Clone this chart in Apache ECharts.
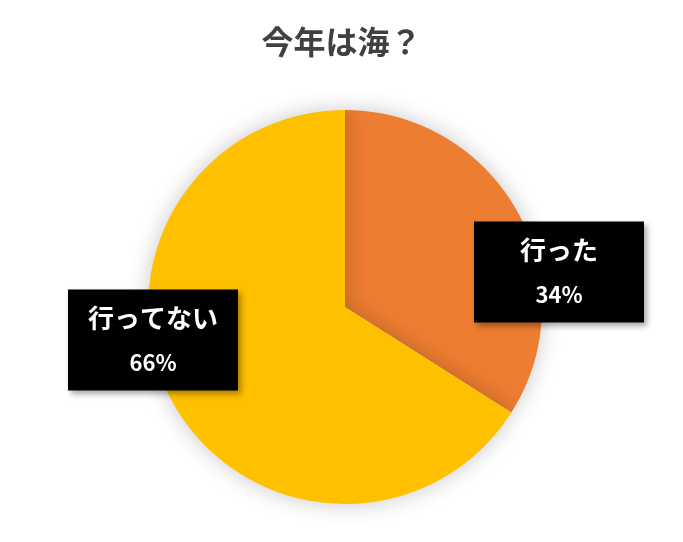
<!DOCTYPE html>
<html lang="ja">
<head>
    <meta charset="UTF-8">
    <title>今年は海？</title>
    <script src="https://cdn.jsdelivr.net/npm/echarts@6/dist/echarts.min.js"></script>
    <style>
        body { margin: 0; background: #fff; }
    </style>
</head>
<body>
    <div id="main" style="width: 683px;height:542px;"></div>
    <script type="text/javascript">
        // chart data
        const categories = ['行った', '行ってない'];
        const values = [34, 66];
        const colors = ['#ED7D31', '#FFC000'];

        // where the black label boxes sit (centre of each box)
        const labelSpots = [[559, 272], [153, 340]];

        const font = '"Noto Sans CJK JP", "Noto Sans", sans-serif';

        let myChart = echarts.init(document.getElementById('main'));

        let options = {
            title: {
                text: '今年は海？',
                left: 'center',
                top: 21,
                textStyle: { fontFamily: font, fontSize: 32, fontWeight: 'bold', color: '#404040' }
            },
            series: [{
                type: 'pie',
                center: [345, 307],
                radius: 197,
                startAngle: 90,
                clockwise: true,
                animation: false,
                data: categories.map((c, i) => ({
                    name: c,
                    value: values[i],
                    itemStyle: { color: colors[i] }
                })),
                itemStyle: {
                    shadowBlur: 22,
                    shadowColor: 'rgba(0,0,0,0.22)'
                },
                emphasis: { disabled: true },
                labelLine: { show: false },
                label: {
                    show: true,
                    position: 'inside',
                    formatter: '{n|{b}}\n{p|{d}%}',
                    backgroundColor: '#000',
                    width: 170,
                    height: 88,
                    padding: [7, 0, 6, 0],
                    align: 'center',
                    shadowBlur: 6,
                    shadowOffsetX: 3,
                    shadowOffsetY: 3,
                    shadowColor: 'rgba(0,0,0,0.35)',
                    rich: {
                        n: { fontFamily: font, fontSize: 26, fontWeight: 'bold', color: '#fff', lineHeight: 44, align: 'center', width: 170 },
                        p: { fontFamily: font, fontSize: 22, fontWeight: 'bold', color: '#fff', lineHeight: 44, align: 'center', width: 170 }
                    }
                },
                labelLayout: function (params) {
                    const s = labelSpots[params.dataIndex];
                    return { x: s[0], y: s[1], align: 'center', verticalAlign: 'middle' };
                }
            }]
        };

        myChart.setOption(options);
    </script>
</body>
</html>
